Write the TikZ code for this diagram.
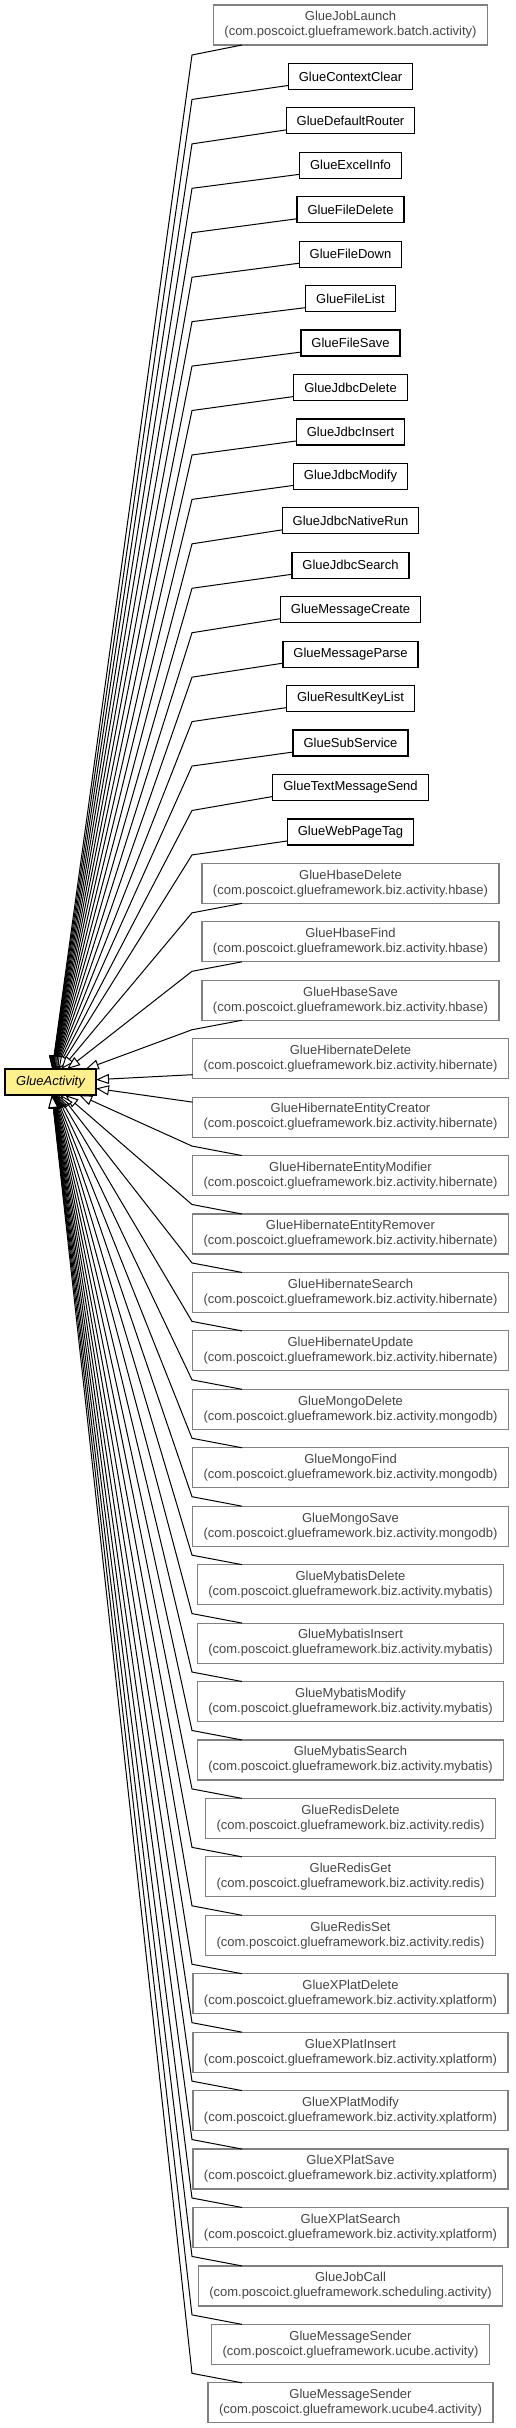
\documentclass[tikz,border=0pt]{standalone}
\usepackage{fontspec}
\setmainfont{Liberation Sans}
\usepackage{xcolor}
\usepackage{tikz}
\usetikzlibrary{arrows.meta, positioning, calc}

\definecolor{actfill}{HTML}{FFF08C}
\definecolor{extline}{HTML}{808080}
\definecolor{exttext}{HTML}{454545}

\begin{document}
\begin{tikzpicture}[
	x=1pt, y=-1pt,
	font=\fontsize{13}{15}\selectfont,
	node distance=18.44pt,
	cls/.style={draw, line width=1.2pt, outer sep=0pt, inner xsep=10.5pt, inner ysep=0pt, minimum height=26pt},
	ext/.style={draw=extline, text=exttext, line width=1.2pt, outer sep=0pt, align=center, inner xsep=11pt, inner ysep=0pt, minimum height=40pt},
	act/.style={draw, line width=1.2pt, outer sep=0pt, fill=actfill, font=\fontsize{13}{15}\selectfont\itshape, minimum width=91pt, minimum height=26pt, inner sep=0pt},
	inh/.style={-{Triangle[length=13pt, width=10pt, fill=white]}, line width=1pt, line join=miter}
]
\useasboundingbox (0,0) rectangle (515,2428);

\coordinate (tap) at (242,0);
\coordinate (bend) at (192,0);

\node[ext] (jobLaunch) at (350.5,25) {GlueJobLaunch\\(com.poscoict.glueframework.batch.activity)};
\node[cls, below=of jobLaunch] (contextClear) {GlueContextClear};
\node[cls, below=of contextClear] (defaultRouter) {GlueDefaultRouter};
\node[cls, below=of defaultRouter] (excelInfo) {GlueExcelInfo};
\node[cls, below=of excelInfo] (fileDelete) {GlueFileDelete};
\node[cls, below=of fileDelete] (fileDown) {GlueFileDown};
\node[cls, below=of fileDown] (fileList) {GlueFileList};
\node[cls, below=of fileList] (fileSave) {GlueFileSave};
\node[cls, below=of fileSave] (jdbcDelete) {GlueJdbcDelete};
\node[cls, below=of jdbcDelete] (jdbcInsert) {GlueJdbcInsert};
\node[cls, below=of jdbcInsert] (jdbcModify) {GlueJdbcModify};
\node[cls, below=of jdbcModify] (jdbcNativeRun) {GlueJdbcNativeRun};
\node[cls, below=of jdbcNativeRun] (jdbcSearch) {GlueJdbcSearch};
\node[cls, below=of jdbcSearch] (messageCreate) {GlueMessageCreate};
\node[cls, below=of messageCreate] (messageParse) {GlueMessageParse};
\node[cls, below=of messageParse] (resultKeyList) {GlueResultKeyList};
\node[cls, below=of resultKeyList] (subService) {GlueSubService};
\node[cls, below=of subService] (textMessageSend) {GlueTextMessageSend};
\node[cls, below=of textMessageSend] (webPageTag) {GlueWebPageTag};
\node[ext, below=of webPageTag] (hbaseDelete) {GlueHbaseDelete\\(com.poscoict.glueframework.biz.activity.hbase)};
\node[ext, below=of hbaseDelete] (hbaseFind) {GlueHbaseFind\\(com.poscoict.glueframework.biz.activity.hbase)};
\node[ext, below=of hbaseFind] (hbaseSave) {GlueHbaseSave\\(com.poscoict.glueframework.biz.activity.hbase)};
\node[ext, below=of hbaseSave] (hibDelete) {GlueHibernateDelete\\(com.poscoict.glueframework.biz.activity.hibernate)};
\node[ext, below=of hibDelete] (hibCreator) {GlueHibernateEntityCreator\\(com.poscoict.glueframework.biz.activity.hibernate)};
\node[ext, below=of hibCreator] (hibModifier) {GlueHibernateEntityModifier\\(com.poscoict.glueframework.biz.activity.hibernate)};
\node[ext, below=of hibModifier] (hibRemover) {GlueHibernateEntityRemover\\(com.poscoict.glueframework.biz.activity.hibernate)};
\node[ext, below=of hibRemover] (hibSearch) {GlueHibernateSearch\\(com.poscoict.glueframework.biz.activity.hibernate)};
\node[ext, below=of hibSearch] (hibUpdate) {GlueHibernateUpdate\\(com.poscoict.glueframework.biz.activity.hibernate)};
\node[ext, below=of hibUpdate] (mongoDelete) {GlueMongoDelete\\(com.poscoict.glueframework.biz.activity.mongodb)};
\node[ext, below=of mongoDelete] (mongoFind) {GlueMongoFind\\(com.poscoict.glueframework.biz.activity.mongodb)};
\node[ext, below=of mongoFind] (mongoSave) {GlueMongoSave\\(com.poscoict.glueframework.biz.activity.mongodb)};
\node[ext, below=of mongoSave] (mybatisDelete) {GlueMybatisDelete\\(com.poscoict.glueframework.biz.activity.mybatis)};
\node[ext, below=of mybatisDelete] (mybatisInsert) {GlueMybatisInsert\\(com.poscoict.glueframework.biz.activity.mybatis)};
\node[ext, below=of mybatisInsert] (mybatisModify) {GlueMybatisModify\\(com.poscoict.glueframework.biz.activity.mybatis)};
\node[ext, below=of mybatisModify] (mybatisSearch) {GlueMybatisSearch\\(com.poscoict.glueframework.biz.activity.mybatis)};
\node[ext, below=of mybatisSearch] (redisDelete) {GlueRedisDelete\\(com.poscoict.glueframework.biz.activity.redis)};
\node[ext, below=of redisDelete] (redisGet) {GlueRedisGet\\(com.poscoict.glueframework.biz.activity.redis)};
\node[ext, below=of redisGet] (redisSet) {GlueRedisSet\\(com.poscoict.glueframework.biz.activity.redis)};
\node[ext, below=of redisSet] (xplatDelete) {GlueXPlatDelete\\(com.poscoict.glueframework.biz.activity.xplatform)};
\node[ext, below=of xplatDelete] (xplatInsert) {GlueXPlatInsert\\(com.poscoict.glueframework.biz.activity.xplatform)};
\node[ext, below=of xplatInsert] (xplatModify) {GlueXPlatModify\\(com.poscoict.glueframework.biz.activity.xplatform)};
\node[ext, below=of xplatModify] (xplatSave) {GlueXPlatSave\\(com.poscoict.glueframework.biz.activity.xplatform)};
\node[ext, below=of xplatSave] (xplatSearch) {GlueXPlatSearch\\(com.poscoict.glueframework.biz.activity.xplatform)};
\node[ext, below=of xplatSearch] (jobCall) {GlueJobCall\\(com.poscoict.glueframework.scheduling.activity)};
\node[ext, below=of jobCall] (senderUcube) {GlueMessageSender\\(com.poscoict.glueframework.ucube.activity)};
\node[ext, below=of senderUcube] (senderUcube4) {GlueMessageSender\\(com.poscoict.glueframework.ucube4.activity)};

\node[act] (act) at (50.5,1082) {GlueActivity};

% upper subclasses
\draw[inh] (jobLaunch.south -| tap) -- ($(jobLaunch.south -| bend)+(0,10)$) -- (act);
\draw[inh] ($(contextClear.south west)+(0,-4)$) -- ($(contextClear.south -| bend)+(0,10)$) -- (act);
\draw[inh] ($(defaultRouter.south west)+(0,-4)$) -- ($(defaultRouter.south -| bend)+(0,10)$) -- (act);
\draw[inh] ($(excelInfo.south west)+(0,-4)$) -- ($(excelInfo.south -| bend)+(0,10)$) -- (act);
\draw[inh] ($(fileDelete.south west)+(0,-4)$) -- ($(fileDelete.south -| bend)+(0,10)$) -- (act);
\draw[inh] ($(fileDown.south west)+(0,-4)$) -- ($(fileDown.south -| bend)+(0,10)$) -- (act);
\draw[inh] ($(fileList.south west)+(0,-4)$) -- ($(fileList.south -| bend)+(0,10)$) -- (act);
\draw[inh] ($(fileSave.south west)+(0,-4)$) -- ($(fileSave.south -| bend)+(0,10)$) -- (act);
\draw[inh] ($(jdbcDelete.south west)+(0,-4)$) -- ($(jdbcDelete.south -| bend)+(0,10)$) -- (act);
\draw[inh] ($(jdbcInsert.south west)+(0,-4)$) -- ($(jdbcInsert.south -| bend)+(0,10)$) -- (act);
\draw[inh] ($(jdbcModify.south west)+(0,-4)$) -- ($(jdbcModify.south -| bend)+(0,10)$) -- (act);
\draw[inh] ($(jdbcNativeRun.south west)+(0,-4)$) -- ($(jdbcNativeRun.south -| bend)+(0,10)$) -- (act);
\draw[inh] ($(jdbcSearch.south west)+(0,-4)$) -- ($(jdbcSearch.south -| bend)+(0,10)$) -- (act);
\draw[inh] ($(messageCreate.south west)+(0,-4)$) -- ($(messageCreate.south -| bend)+(0,10)$) -- (act);
\draw[inh] ($(messageParse.south west)+(0,-4)$) -- ($(messageParse.south -| bend)+(0,10)$) -- (act);
\draw[inh] ($(resultKeyList.south west)+(0,-4)$) -- ($(resultKeyList.south -| bend)+(0,10)$) -- (act);
\draw[inh] ($(subService.south west)+(0,-4)$) -- ($(subService.south -| bend)+(0,10)$) -- (act);
\draw[inh] ($(textMessageSend.south west)+(0,-4)$) -- ($(textMessageSend.south -| bend)+(0,10)$) -- (act);
\draw[inh] ($(webPageTag.south west)+(0,-4)$) -- ($(webPageTag.south -| bend)+(0,10)$) -- (act);
\draw[inh] (hbaseDelete.south -| tap) -- ($(hbaseDelete.south -| bend)+(0,9.5)$) -- (act);
\draw[inh] (hbaseFind.south -| tap) -- ($(hbaseFind.south -| bend)+(0,9.5)$) -- (act);
\draw[inh] (hbaseSave.south -| tap) -- ($(hbaseSave.south -| bend)+(0,9.5)$) -- (act);

% level with the base class
\draw[inh] ($(hibDelete.south west)+(0,-4)$) -- (act);
\draw[inh] ($(hibCreator.north west)+(0,5)$) -- (act);

% lower subclasses
\draw[inh] (hibModifier.north -| tap) -- ($(hibModifier.north -| bend)+(0,-9.5)$) -- (act);
\draw[inh] (hibRemover.north -| tap) -- ($(hibRemover.north -| bend)+(0,-9.5)$) -- (act);
\draw[inh] (hibSearch.north -| tap) -- ($(hibSearch.north -| bend)+(0,-9.5)$) -- (act);
\draw[inh] (hibUpdate.north -| tap) -- ($(hibUpdate.north -| bend)+(0,-9.5)$) -- (act);
\draw[inh] (mongoDelete.north -| tap) -- ($(mongoDelete.north -| bend)+(0,-9.5)$) -- (act);
\draw[inh] (mongoFind.north -| tap) -- ($(mongoFind.north -| bend)+(0,-9.5)$) -- (act);
\draw[inh] (mongoSave.north -| tap) -- ($(mongoSave.north -| bend)+(0,-9.5)$) -- (act);
\draw[inh] (mybatisDelete.north -| tap) -- ($(mybatisDelete.north -| bend)+(0,-9.5)$) -- (act);
\draw[inh] (mybatisInsert.north -| tap) -- ($(mybatisInsert.north -| bend)+(0,-9.5)$) -- (act);
\draw[inh] (mybatisModify.north -| tap) -- ($(mybatisModify.north -| bend)+(0,-9.5)$) -- (act);
\draw[inh] (mybatisSearch.north -| tap) -- ($(mybatisSearch.north -| bend)+(0,-9.5)$) -- (act);
\draw[inh] (redisDelete.north -| tap) -- ($(redisDelete.north -| bend)+(0,-9.5)$) -- (act);
\draw[inh] (redisGet.north -| tap) -- ($(redisGet.north -| bend)+(0,-9.5)$) -- (act);
\draw[inh] (redisSet.north -| tap) -- ($(redisSet.north -| bend)+(0,-9.5)$) -- (act);
\draw[inh] (xplatDelete.north -| tap) -- ($(xplatDelete.north -| bend)+(0,-9.5)$) -- (act);
\draw[inh] (xplatInsert.north -| tap) -- ($(xplatInsert.north -| bend)+(0,-9.5)$) -- (act);
\draw[inh] (xplatModify.north -| tap) -- ($(xplatModify.north -| bend)+(0,-9.5)$) -- (act);
\draw[inh] (xplatSave.north -| tap) -- ($(xplatSave.north -| bend)+(0,-9.5)$) -- (act);
\draw[inh] (xplatSearch.north -| tap) -- ($(xplatSearch.north -| bend)+(0,-9.5)$) -- (act);
\draw[inh] (jobCall.north -| tap) -- ($(jobCall.north -| bend)+(0,-9.5)$) -- (act);
\draw[inh] (senderUcube.north -| tap) -- ($(senderUcube.north -| bend)+(0,-9.5)$) -- (act);
\draw[inh] (senderUcube4.north -| tap) -- ($(senderUcube4.north -| bend)+(0,-9.5)$) -- (act);

\end{tikzpicture}
\end{document}
